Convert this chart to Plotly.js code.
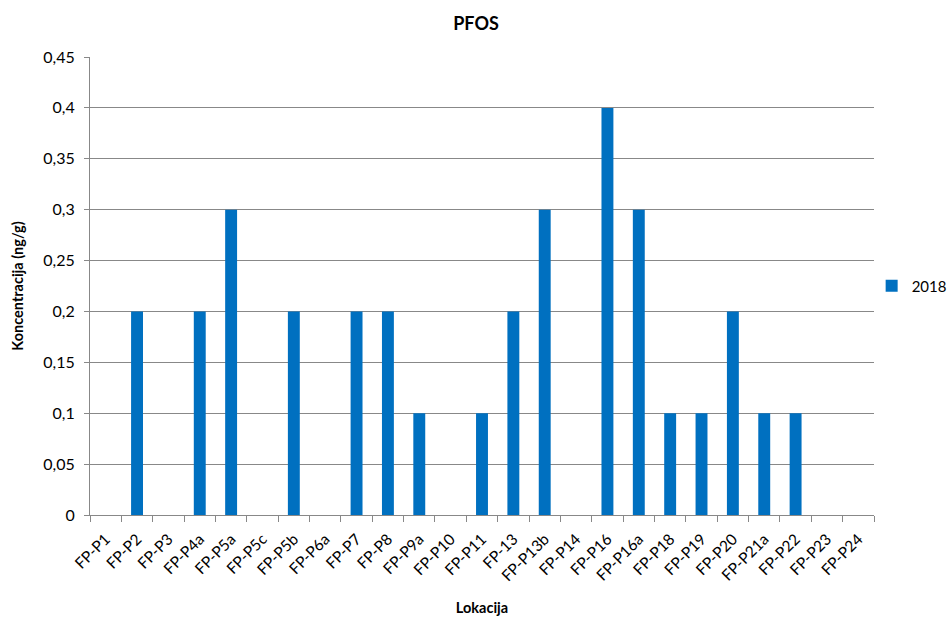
<!DOCTYPE html>
<html>
<head>
<meta charset="utf-8">
<script src="https://cdn.plot.ly/plotly-3.0.1.min.js"></script>
<style>html,body{margin:0;padding:0;background:#fff;}#chart{width:952px;height:622px;}</style>
</head>
<body>
<div id="chart"></div>
<script>
const locations = ["FP-P1","FP-P2","FP-P3","FP-P4a","FP-P5a","FP-P5c","FP-P5b","FP-P6a","FP-P7","FP-P8","FP-P9a","FP-P10","FP-P11","FP-13","FP-P13b","FP-P14","FP-P16","FP-P16a","FP-P18","FP-P19","FP-P20","FP-P21a","FP-P22","FP-P23","FP-P24"];
const values2018 = [0,0.2,0,0.2,0.3,0,0.2,0,0.2,0.2,0.1,0,0.1,0.2,0.3,0,0.4,0.3,0.1,0.1,0.2,0.1,0.1,0,0];
const yTicks = [0,0.05,0.1,0.15,0.2,0.25,0.3,0.35,0.4,0.45];
const yTickText = ["0","0,05","0,1","0,15","0,2","0,25","0,3","0,35","0,4","0,45"];

const font = "Lato, 'Open Sans', sans-serif";
const data = [{
  type: "bar",
  x: locations,
  y: values2018,
  name: "2018",
  marker: {color: "#0070C0"},
  showlegend: true
}];
const layout = {
  width: 952, height: 622,
  margin: {l: 90, r: 78, t: 57, b: 107, autoexpand: false},
  paper_bgcolor: "#fff", plot_bgcolor: "#fff",
  font: {family: font, size: 14, color: "#000"},
  title: {text: "<b>PFOS</b>", x: 0.5, xanchor: "center", y: 0.962, yanchor: "middle", font: {family: font, size: 18, color: "#000"}},
  bargap: 0.62,
  xaxis: {
    type: "category",
    tickangle: -45,
    tickson: "boundaries",
    ticks: "outside", ticklen: 6, tickcolor: "#888",
    ticklabelstandoff: 8,
    showline: true, linecolor: "#888", linewidth: 1,
    showgrid: false,
    automargin: false,
    tickfont: {family: font, size: 15.5},
    title: {text: "<b>Lokacija</b>", font: {family: font, size: 14.5}, standoff: 19}
  },
  yaxis: {
    range: [0, 0.45],
    tickvals: yTicks, ticktext: yTickText,
    ticks: "outside", ticklen: 5, tickcolor: "#888",
    ticklabelstandoff: 6,
    showline: true, linecolor: "#888", linewidth: 1,
    showgrid: true, gridcolor: "#888", gridwidth: 1,
    zeroline: false,
    automargin: false,
    tickfont: {family: font, size: 16},
    title: {text: "<b>Koncentracija (ng/g)</b>", font: {family: font, size: 14.5}, standoff: 16}
  },
  legend: {x: 0.997, xanchor: "left", y: 0.5, yanchor: "middle", font: {family: font, size: 15}, bgcolor: "rgba(0,0,0,0)"}
};
Plotly.newPlot("chart", data, layout, {displayModeBar: false, staticPlot: true});
</script>
</body>
</html>
